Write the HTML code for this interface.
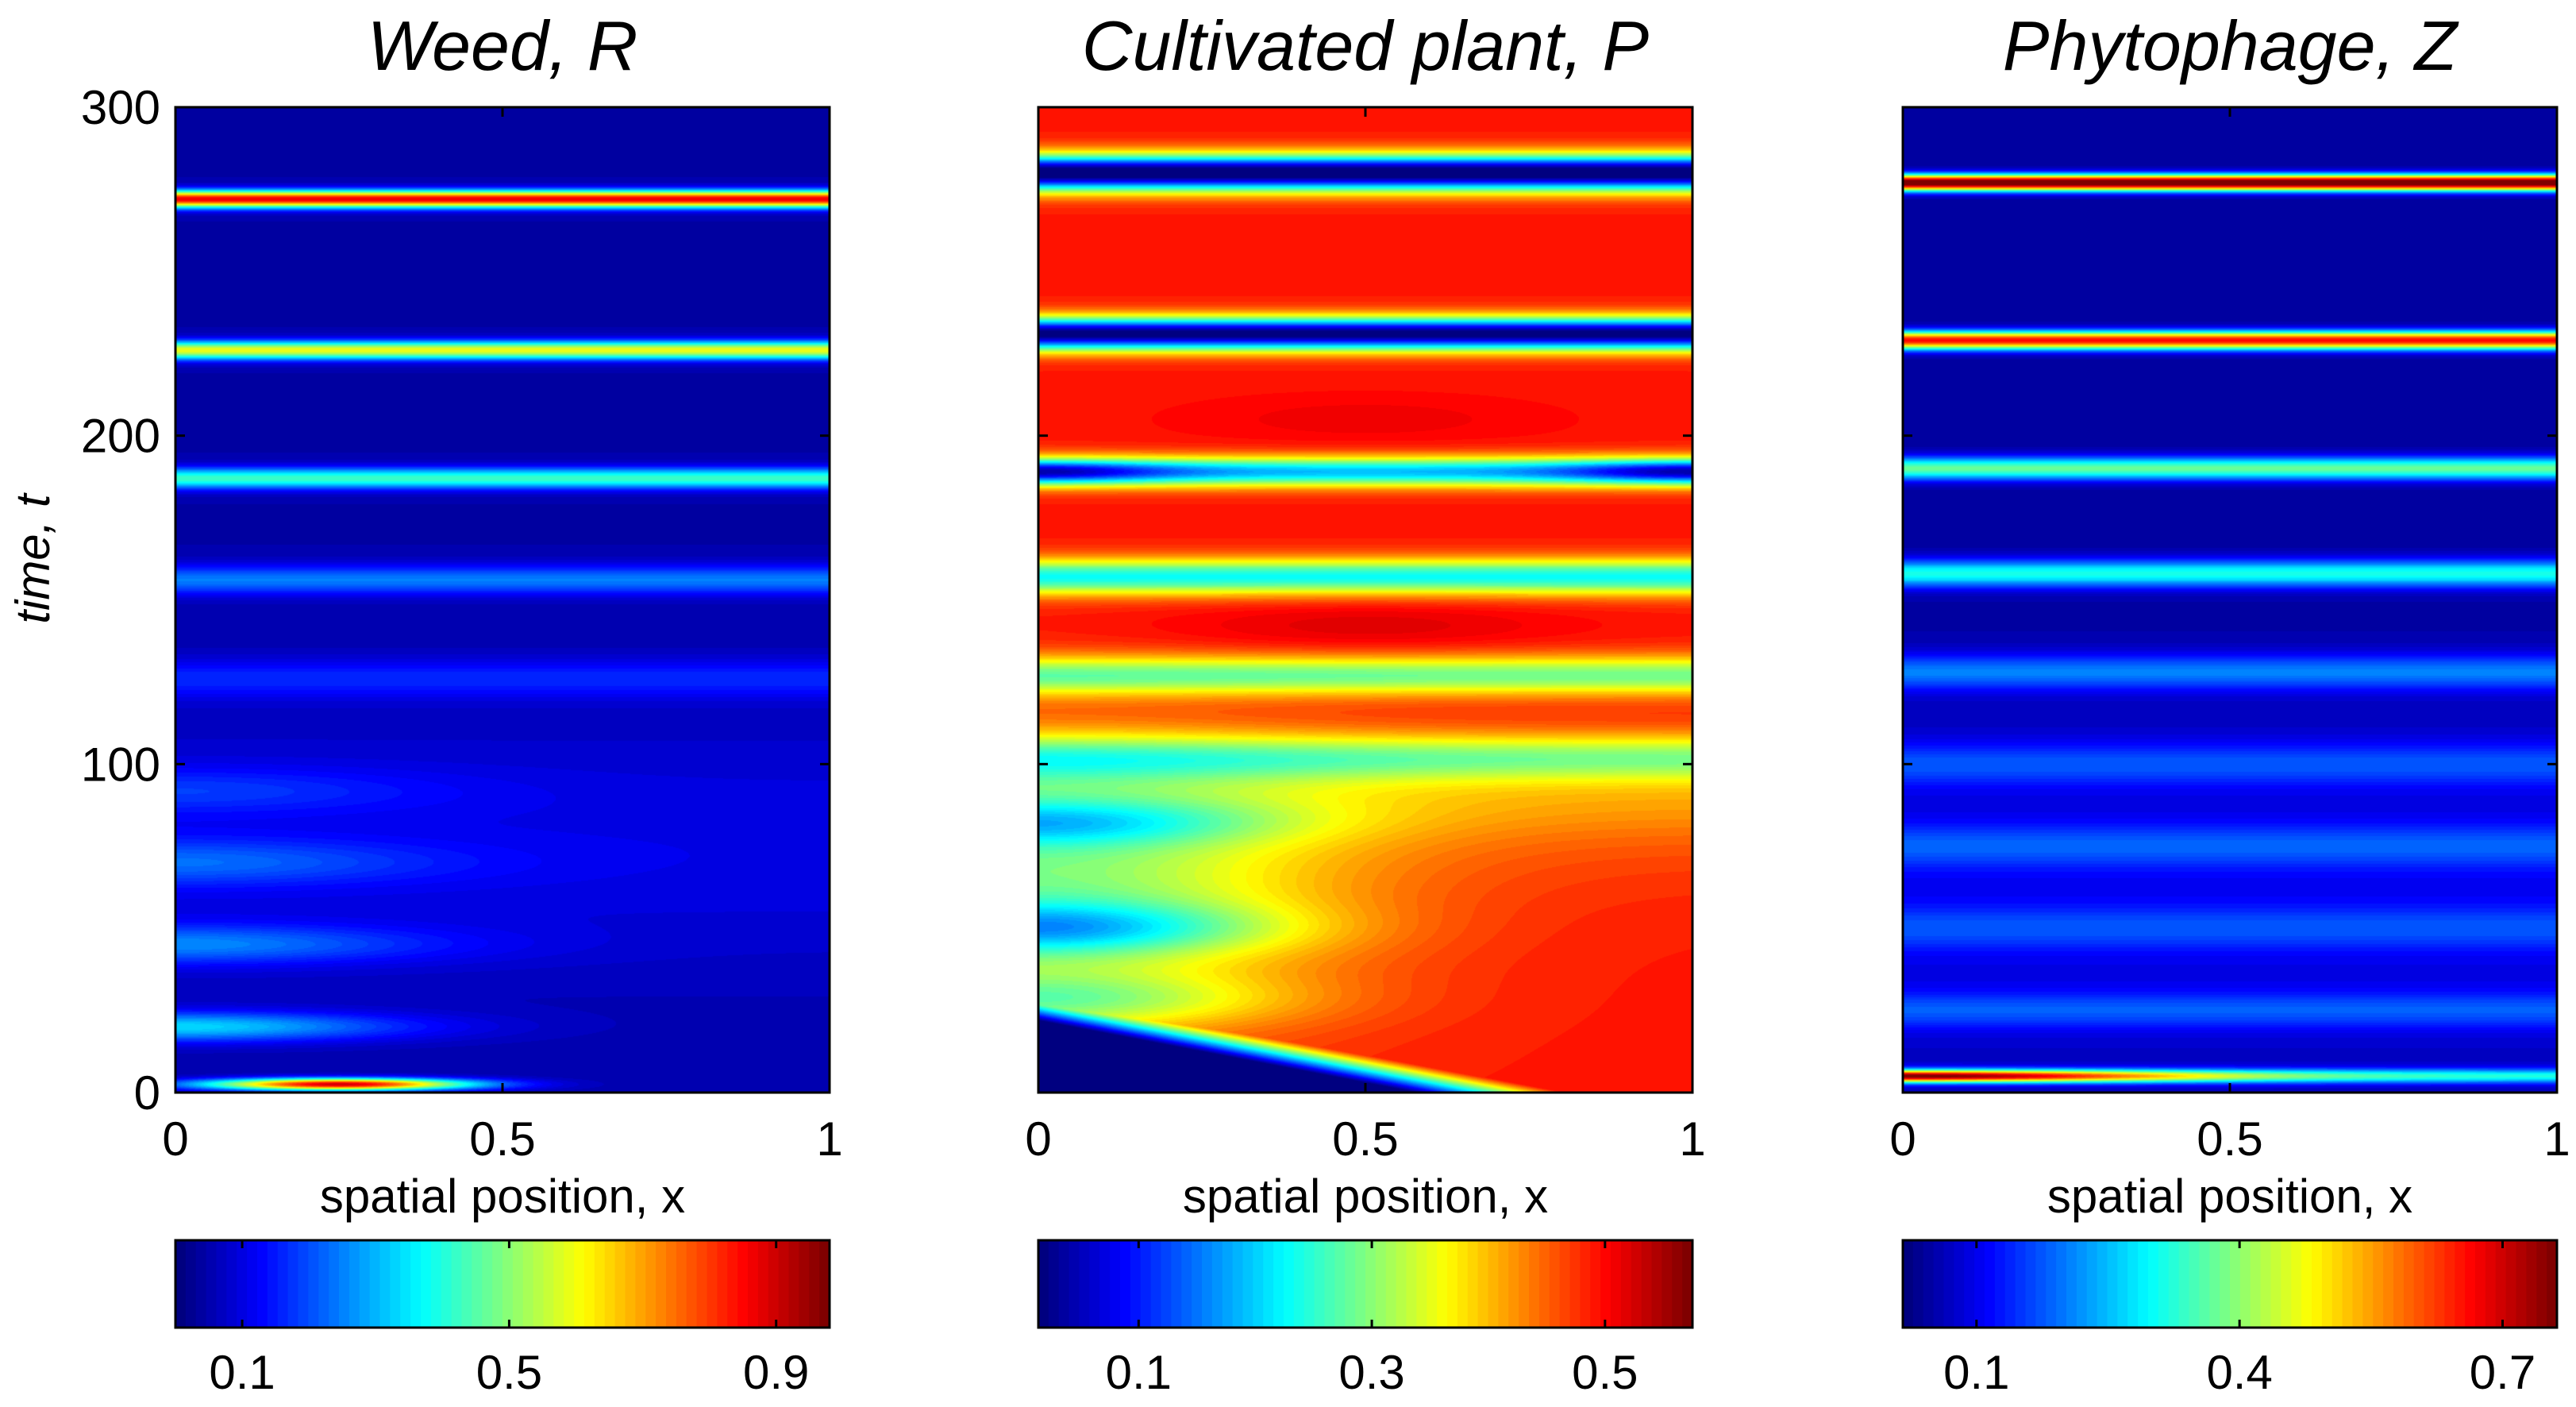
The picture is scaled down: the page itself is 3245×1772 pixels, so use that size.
<!DOCTYPE html>
<html><head><meta charset="utf-8">
<style>
html,body{margin:0;padding:0;background:#fff;}
body{width:3245px;height:1772px;position:relative;overflow:hidden;font-family:"Liberation Sans",Arial,sans-serif;}
canvas{position:absolute;}
svg{position:absolute;left:0;top:0;}
</style></head>
<body>
<canvas id="c0"></canvas>
<canvas id="c1"></canvas>
<canvas id="c2"></canvas>
<svg id="ov" width="3245" height="1772"></svg>
<script>
// ---- data ----
const titles = ["Weed, R", "Cultivated plant, P", "Phytophage, Z"];
const yTicks = [0, 100, 200, 300];
const xTicks = [0, 0.5, 1];
const xTickLabels = ["0", "0.5", "1"];
const cbMin = [0.0, 0.014, 0.016];
const cbMax = [0.98, 0.575, 0.762];
const cbTicks0 = [0.1, 0.5, 0.9];
const cbTicks1 = [0.1, 0.3, 0.5];
const cbTicks2 = [0.1, 0.4, 0.7];
const background = [0.045, 0.49, 0.04];
// bands: time center, amplitude, time width, x center, x width (0 = uniform)
const bandT0 = [272, 226, 187, 156, 126, 2.5, 20, 45, 70, 92, 75];
const bandA0 = [0.82, 0.55, 0.38, 0.2, 0.11, 0.85, 0.28, 0.18, 0.13, 0.09, 0.06];
const bandW0 = [2.6, 2.8, 3.2, 4.5, 6, 1.8, 4.5, 6, 7, 7, 40];
const bandX0 = [0, 0, 0, 0, 0, 0.25, 0, 0, 0, 0, 0];
const bandXW0 = [0, 0, 0, 0, 0, 0.2, 0.35, 0.4, 0.4, 0.4, 0];
const bandT1 = [280, 231, 189, 189, 189, 157, 127, 102, 90, 82, 50, 28, 60, 142, 113, 205, 88];
const bandA1 = [-0.5, -0.48, -0.3, -0.15, -0.15, -0.26, -0.2, -0.16, -0.04, -0.12, -0.16, -0.12, -0.18, 0.03, 0.0, 0.02, -0.035];
const bandW1 = [5.5, 5, 4.5, 3.5, 3.5, 5.5, 6, 7, 12, 7, 8, 8, 40, 8, 8, 8, 25];
const bandX1 = [0, 0, 0, 0, 1, 0, 0, 0, 0, 0, 0, 0, 0, 0.5, 0.5, 0.5, 0];
const bandXW1 = [0, 0, 0, 0.2, 0.2, 0, 0, 0, 0, 0.35, 0.35, 0.35, 0.45, 0.3, 0.3, 0.3, 0];
const bandT2 = [277, 229, 190, 158, 128, 100, 75, 50, 25, 5, 5, 60];
const bandA2 = [0.76, 0.62, 0.33, 0.27, 0.15, 0.1, 0.09, 0.08, 0.1, 0.45, 0.25, 0.06];
const bandW2 = [2.5, 2.8, 3.5, 4.2, 5.5, 6.5, 6.5, 6.5, 5.5, 1.8, 2.2, 60];
const bandX2 = [0, 0, 0, 0, 0, 0, 0, 0, 0, 0, 0, 0];
const bandXW2 = [0, 0, 0, 0, 0, 0, 0, 0, 0, 0.45, 0, 0];
// cultivated plant initial depletion wedge: time extent at x=0, x extent at t=0
const wedgeT = [22];
const wedgeX = [0.58];

// ---- layout ----
const panelL = [221, 1308, 2397], panelW = 824;
const plotTop = 135, plotBot = 1376;
const cbTop = 1562, cbBot = 1672;
const bands = [[bandT0,bandA0,bandW0,bandX0,bandXW0],[bandT1,bandA1,bandW1,bandX1,bandXW1],[bandT2,bandA2,bandW2,bandX2,bandXW2]];
const cbTicks = [cbTicks0, cbTicks1, cbTicks2];
function xS(p, x){ return panelL[p] + x*panelW; }
function yS(t){ return plotBot - t/300*(plotBot-plotTop); }
function cS(p, v){ return panelL[p] + (v-cbMin[p])/(cbMax[p]-cbMin[p])*panelW; }
function jet(u){
  u = Math.max(0, Math.min(1, u));
  u = Math.min(63, Math.floor(u*64))/63;
  const c = a => Math.round(255*Math.max(0, Math.min(1, 1.5-Math.abs(a))));
  return [c(4*u-3), c(4*u-2), c(4*u-1)];
}
function field(p, x, t){
  let v = background[p];
  const [T,A,W,X,XW] = bands[p];
  for (let i=0;i<T.length;i++){
    const dt=(t-T[i])/W[i]; if (Math.abs(dt)>4) continue;
    let s = Math.exp(-dt*dt);
    if (XW[i]>0){ const dx=(x-X[i])/XW[i]; s*=Math.exp(-dx*dx); }
    v += A[i]*s;
  }
  if (p===1){
    const b = wedgeT[0]*(1 - x/wedgeX[0]);
    const d = t - b;
    if (d < 0) v = 0.02; else if (d < 9) v = Math.min(v, 0.02 + d*0.055);
  }
  return v;
}
function jetHex(u){ const c=jet(u); return "rgb("+c[0]+","+c[1]+","+c[2]+")"; }
for (let p=0;p<3;p++){
  const cv = document.getElementById("c"+p);
  const W = panelW, H = plotBot-plotTop;
  cv.width = W; cv.height = H;
  cv.style.left = panelL[p]+"px"; cv.style.top = plotTop+"px";
  const ctx = cv.getContext("2d");
  const img = ctx.createImageData(W, H);
  for (let j=0;j<H;j++){
    const t = (plotBot - (plotTop+j+0.5))/(plotBot-plotTop)*300;
    for (let i=0;i<W;i++){
      const x = (i+0.5)/W;
      const v = field(p, x, t);
      const c = jet((v-cbMin[p])/(cbMax[p]-cbMin[p]));
      const k = (j*W+i)*4;
      img.data[k]=c[0]; img.data[k+1]=c[1]; img.data[k+2]=c[2]; img.data[k+3]=255;
    }
  }
  ctx.putImageData(img,0,0);
}
// ---- overlay ----
const NS="http://www.w3.org/2000/svg";
const ov=document.getElementById("ov");
function mk(tag, attrs, text){
  const e=document.createElementNS(NS,tag);
  for (const k in attrs) e.setAttribute(k, attrs[k]);
  if (text!==undefined) e.textContent=text;
  ov.appendChild(e); return e;
}
for (let p=0;p<3;p++){
  let e;
  e = mk("rect",{x:panelL[p],y:plotTop,width:panelW,height:plotBot-plotTop,fill:"none",stroke:"#000","stroke-width":3});
  
  
  e = mk("text",{x:panelL[p]+panelW/2,y:88,"font-size":88,"font-style":"italic","text-anchor":"middle"},titles[p]);
  
  
  for (let i=0;i<xTicks.length;i++){
    const x=xS(p,xTicks[i]);
    e = mk("line",{x1:x,x2:x,y1:plotBot,y2:plotBot-12,stroke:"#000","stroke-width":3});
    
    
    mk("line",{x1:x,x2:x,y1:plotTop,y2:plotTop+12,stroke:"#000","stroke-width":3});
    e = mk("text",{x:x,y:1455,"font-size":60,"text-anchor":"middle"},xTickLabels[i]);
    
    
  }
  for (let i=0;i<yTicks.length;i++){
    const y=yS(yTicks[i]);
    e = mk("line",{x1:panelL[p],x2:panelL[p]+12,y1:y,y2:y,stroke:"#000","stroke-width":3});
    
    
    mk("line",{x1:panelL[p]+panelW,x2:panelL[p]+panelW-12,y1:y,y2:y,stroke:"#000","stroke-width":3});
    if (p===0){
      e = mk("text",{x:202,y:y+21,"font-size":60,"text-anchor":"end"},String(yTicks[i]));
      
      
    }
  }
  e = mk("text",{x:panelL[p]+panelW/2,y:1527,"font-size":60,"text-anchor":"middle"},"spatial position, x");
  
  
  // colorbar
  const n=64;
  for (let k=0;k<n;k++){
    e = mk("rect",{x:panelL[p]+k*panelW/n,y:cbTop,width:panelW/n+0.8,height:cbBot-cbTop,fill:jetHex(k/63)});
    
    
  }
  e = mk("rect",{x:panelL[p],y:cbTop,width:panelW,height:cbBot-cbTop,fill:"none",stroke:"#000","stroke-width":3});
  
  
  for (const v of cbTicks[p]){
    const x=cS(p,v);
    mk("line",{x1:x,x2:x,y1:cbTop,y2:cbTop+10,stroke:"#000","stroke-width":3});
    mk("line",{x1:x,x2:x,y1:cbBot,y2:cbBot-10,stroke:"#000","stroke-width":3});
    e = mk("text",{x:x,y:1749,"font-size":60,"text-anchor":"middle"},String(v));
    
    
  }
}
const yl = mk("text",{x:0,y:0,"font-size":60,"font-style":"italic","text-anchor":"middle",transform:"translate(62,704) rotate(-90)"},"time, t");


</script>
</body></html>
